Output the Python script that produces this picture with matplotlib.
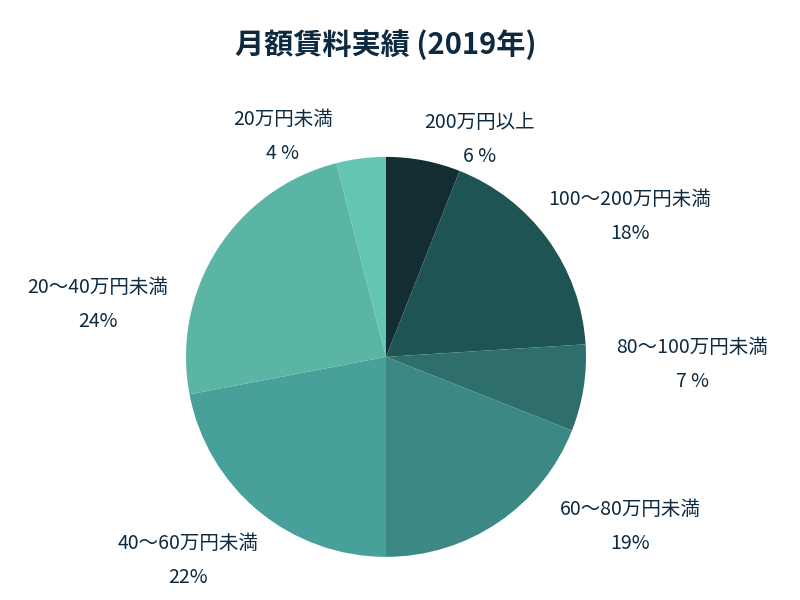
import matplotlib.pyplot as plt

plt.rcParams["font.family"] = "Noto Sans CJK JP"

categories = ["200万円以上", "100〜200万円未満", "80〜100万円未満", "60〜80万円未満",
              "40〜60万円未満", "20〜40万円未満", "20万円未満"]
values = [6, 18, 7, 19, 22, 24, 4]
pct_labels = ["6 %", "18%", "7 %", "19%", "22%", "24%", "4 %"]
colors = ["#122e33", "#1f5455", "#2e6e6c", "#3b8884", "#48a09b", "#5bb5a4", "#62c6b3"]
# label block centres, in pie radius units
label_pos = [(0.47, 1.085), (1.22, 0.70), (1.53, -0.04), (1.22, -0.85),
             (-0.99, -1.02), (-1.44, 0.26), (-0.515, 1.10)]

fig = plt.figure(figsize=(8, 6), dpi=100)
ax = fig.add_axes([0.2325, 0.0717, 0.5, 0.667])
ax.pie(values, colors=colors, startangle=90, counterclock=False, radius=1.0)
ax.set_xlim(-1, 1)
ax.set_ylim(-1, 1)
ax.set_aspect("equal")

for cat, pct, (x, y) in zip(categories, pct_labels, label_pos):
    ax.text(x, y + 0.085, cat, ha="center", va="center", fontsize=14, color="#0d2a40")
    ax.text(x, y - 0.085, pct, ha="center", va="center", fontsize=14, color="#0d2a40")

fig.text(0.4825, 0.925, "月額賃料実績 (2019年)", ha="center", va="center",
         fontsize=21, fontweight="bold", color="#0d2a40")

fig.savefig("out.png")
